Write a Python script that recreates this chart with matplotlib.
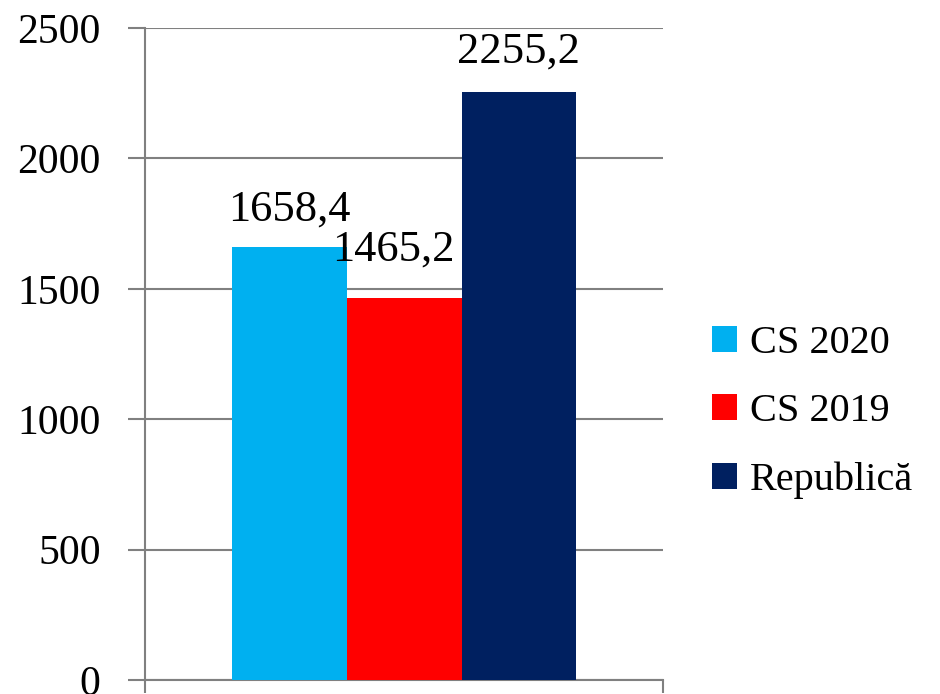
import numpy as np
import matplotlib.pyplot as plt

plt.rcParams['font.family'] = ['Liberation Serif', 'DejaVu Serif']

series = ['CS 2020', 'CS 2019', 'Republică']
values = [1658.4, 1465.2, 2255.2]
labels = ['1658,4', '1465,2', '2255,2']
colors = ['#00B0F0', '#FF0000', '#002060']

fig = plt.figure(figsize=(9.4, 6.94), dpi=100)
ax = fig.add_axes([0.1543, 0.0202, 0.7053 - 0.1543, 0.9597 - 0.0202])

w = 0.222
offsets = [-w, 0, w]
# label shifts (points) to mimic the original placement
label_dx = [0, -8, 0]
label_dy = [27, 35, 29]
for s, v, lab, c, o, dx, dy in zip(series, values, labels, colors, offsets, label_dx, label_dy):
    ax.bar(o, v, width=w, color=c, label=s, zorder=3)
    ax.annotate(lab, (o, v), xytext=(dx, dy), textcoords='offset points',
                ha='center', va='center', fontsize=32, zorder=4)

ax.set_xlim(-0.5, 0.5)
ax.set_ylim(0, 2500)
ax.set_yticks(np.arange(0, 2501, 500))
ax.yaxis.grid(True, color='#808080', lw=1.5, zorder=0)
ax.set_xticks([-0.5, 0.5])
ax.set_xticklabels([])
ax.tick_params(axis='x', direction='out', length=9, width=1.5, color='#808080')
ax.tick_params(axis='y', direction='out', length=12, width=1.5, color='#808080',
               labelsize=30, pad=20)
for sp in ['top', 'right']:
    ax.spines[sp].set_visible(False)
for sp in ['left', 'bottom']:
    ax.spines[sp].set_color('#808080')
    ax.spines[sp].set_linewidth(1.5)

fig.legend(loc='center left', bbox_to_anchor=(0.719, 0.406), frameon=False,
           fontsize=29, handlelength=0.62, handleheight=0.62, handletextpad=0.32,
           labelspacing=0.77)

fig.savefig('out.png', dpi=100)
